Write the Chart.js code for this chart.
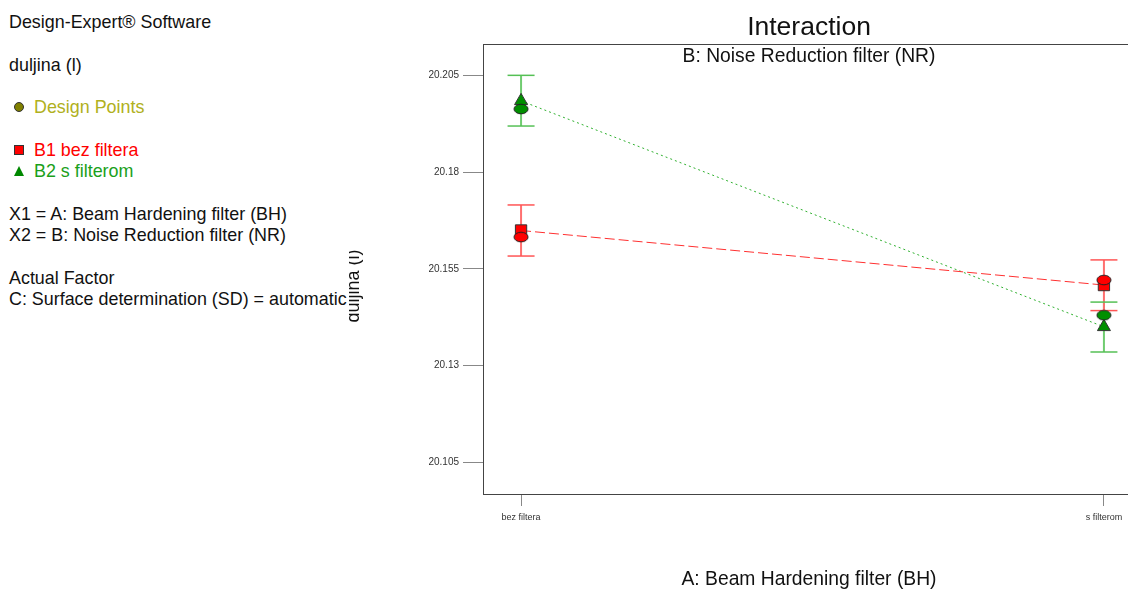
<!DOCTYPE html>
<html>
<head>
<meta charset="utf-8">
<script src="https://cdn.jsdelivr.net/npm/chart.js@4/dist/chart.umd.min.js"></script>
<style>
  body { margin: 0; width: 1128px; height: 592px; overflow: hidden; background: #fff; font-family: "Liberation Sans", Arial, sans-serif; }
  #wrap { position: absolute; left: 0; top: 0; width: 1150px; height: 592px; }
  #side { position: absolute; left: 0; top: 0; width: 349px; height: 592px; overflow: hidden; background: #fff; z-index: 2; white-space: nowrap; font-size: 17.9px; color: #111; }
  #side div { position: absolute; left: 9px; height: 20px; line-height: 20px; }
  .mk { display: inline-block; vertical-align: middle; margin: 0 10px 3px 5px; box-sizing: border-box; }
</style>
</head>
<body>
<div id="side">
  <div style="top:12px">Design-Expert® Software</div>
  <div style="top:55px">duljina (l)</div>
  <div style="top:97px;color:#b0b020"><span class="mk" style="width:10px;height:10px;border-radius:50%;background:#808000;border:1px solid #333"></span>Design Points</div>
  <div style="top:140px;color:#ff0000"><span class="mk" style="width:10px;height:10px;background:#ff0000;border:1px solid #333"></span>B1 bez filtera</div>
  <div style="top:161px;color:#1aa01a"><span class="mk" style="width:0;height:0;border-left:5px solid transparent;border-right:5px solid transparent;border-bottom:10px solid #008800"></span>B2 s filterom</div>
  <div style="top:204px">X1 = A: Beam Hardening filter (BH)</div>
  <div style="top:225px">X2 = B: Noise Reduction filter (NR)</div>
  <div style="top:268px">Actual Factor</div>
  <div style="top:289px">C: Surface determination (SD) = automatic</div>
</div>
<div id="wrap"><canvas id="chart" width="1150" height="592"></canvas></div>
<script>
// factor levels and tick labels
const categories = ['bez filtera', 's filterom'];
const yTickValues = [20.105, 20.13, 20.155, 20.18, 20.205];
const yTickLabels = ['20.105', '20.13', '20.155', '20.18', '20.205'];

// predicted means per B level
const b1Mean = [20.1649, 20.1508];
const b2Mean = [20.1984, 20.1400];
// LSD bars
const b1Low = [20.1583, 20.1442];
const b1High = [20.1715, 20.1573];
const b2Low = [20.1919, 20.1335];
const b2High = [20.2050, 20.1464];
// design points
const b1Design = [20.1632, 20.1521];
const b2Design = [20.1963, 20.1430];

const RED = '#ff0000';
const GREEN = '#008f00';
const FONT = '"Liberation Sans", Arial';

function ellipse(fill) {
  const c = document.createElement('canvas');
  c.width = 16; c.height = 12;
  const g = c.getContext('2d');
  g.beginPath();
  g.ellipse(8, 6, 7, 4.8, 0, 0, Math.PI * 2);
  g.fillStyle = fill;
  g.fill();
  g.strokeStyle = '#222';
  g.lineWidth = 1;
  g.stroke();
  return c;
}

function bars(low, high) {
  const pts = [];
  low.forEach((lo, i) => {
    pts.push({ x: i, y: lo }, { x: i, y: high[i] }, { x: i + 0.5, y: null });
  });
  return pts;
}
function caps(low, high) {
  const pts = [];
  low.forEach((lo, i) => pts.push({ x: i, y: lo }, { x: i, y: high[i] }));
  return pts;
}
const pts = arr => arr.map((v, i) => ({ x: i, y: v }));

const textPlugin = {
  id: 'texts',
  beforeDraw(chart) {
    const { ctx, chartArea: a } = chart;
    ctx.save();
    ctx.strokeStyle = '#444';
    ctx.lineWidth = 1;
    ctx.strokeRect(a.left + 0.5, a.top + 0.5, a.right - a.left, a.bottom - a.top);
    ctx.restore();
  },
  afterDraw(chart) {
    const { ctx, chartArea: a } = chart;
    const cx = (a.left + a.right) / 2;
    ctx.save();
    ctx.fillStyle = '#111';
    ctx.textAlign = 'center';
    ctx.textBaseline = 'middle';
    ctx.font = '26.5px ' + FONT;
    ctx.fillText('Interaction', cx, 28);
    ctx.font = '19.3px ' + FONT;
    ctx.fillText('B: Noise Reduction filter (NR)', cx, 57);
    ctx.fillText('A: Beam Hardening filter (BH)', cx, 580);
    ctx.translate(359, 286);
    ctx.rotate(-Math.PI / 2);
    ctx.font = '18px ' + FONT;
    ctx.textBaseline = 'alphabetic';
    ctx.fillText('duljina (l)', 0, 0);
    ctx.restore();
  }
};

new Chart(document.getElementById('chart'), {
  type: 'scatter',
  data: {
    datasets: [
      { data: pts(b1Design), order: 0, pointStyle: ellipse(RED), pointRadius: 7 },
      { data: pts(b2Design), order: 0, pointStyle: ellipse(GREEN), pointRadius: 7 },
      { data: pts(b1Mean), order: 1, showLine: true, borderColor: '#ff3030', borderWidth: 1, borderDash: [10, 4],
        pointStyle: 'rect', pointRadius: 8, pointBackgroundColor: RED, pointBorderColor: '#333', pointBorderWidth: 1 },
      { data: pts(b2Mean), order: 1, showLine: true, borderColor: '#30b030', borderWidth: 1, borderDash: [2, 3],
        pointStyle: 'triangle', pointRadius: 7.5, pointBackgroundColor: GREEN, pointBorderColor: '#333', pointBorderWidth: 1 },
      { data: caps(b1Low, b1High), order: 2, pointStyle: 'line', pointRadius: 13.5, pointBorderColor: '#ff5555', pointBorderWidth: 1.5 },
      { data: caps(b2Low, b2High), order: 2, pointStyle: 'line', pointRadius: 13.5, pointBorderColor: '#55c055', pointBorderWidth: 1.5 },
      { data: bars(b1Low, b1High), order: 3, showLine: true, spanGaps: false, borderColor: '#ff7070', borderWidth: 2, pointRadius: 0 },
      { data: bars(b2Low, b2High), order: 3, showLine: true, spanGaps: false, borderColor: '#70cc70', borderWidth: 2, pointRadius: 0 }
    ]
  },
  options: {
    responsive: false,
    animation: false,
    devicePixelRatio: 1,
    layout: { padding: { top: 44, left: 0, right: 0, bottom: 0 } },
    plugins: { legend: { display: false }, tooltip: { enabled: false }, title: { display: false } },
    scales: {
      x: {
        type: 'linear',
        min: -0.0653,
        max: 1.0533,
        afterFit: s => { s.height = 98; s.paddingLeft = 0; s.paddingRight = 0; },
        afterBuildTicks: s => { s.ticks = categories.map((c, i) => ({ value: i })); },
        grid: { drawOnChartArea: false, tickLength: 12, color: '#888' },
        border: { color: '#444' },
        ticks: { padding: 6, color: '#333', font: { size: 9, family: FONT },
          callback: (v, i) => categories[i] }
      },
      y: {
        min: 20.0968,
        max: 20.2131,
        afterFit: s => { s.width = 483; s.paddingTop = 0; s.paddingBottom = 0; },
        afterBuildTicks: s => { s.ticks = yTickValues.map(v => ({ value: v })); },
        grid: { drawOnChartArea: false, tickLength: 20, color: '#888' },
        border: { color: '#444' },
        ticks: { padding: 4, color: '#333', font: { size: 10, family: FONT },
          callback: (v, i) => yTickLabels[i] }
      }
    }
  },
  plugins: [textPlugin]
});
</script>
</body>
</html>
